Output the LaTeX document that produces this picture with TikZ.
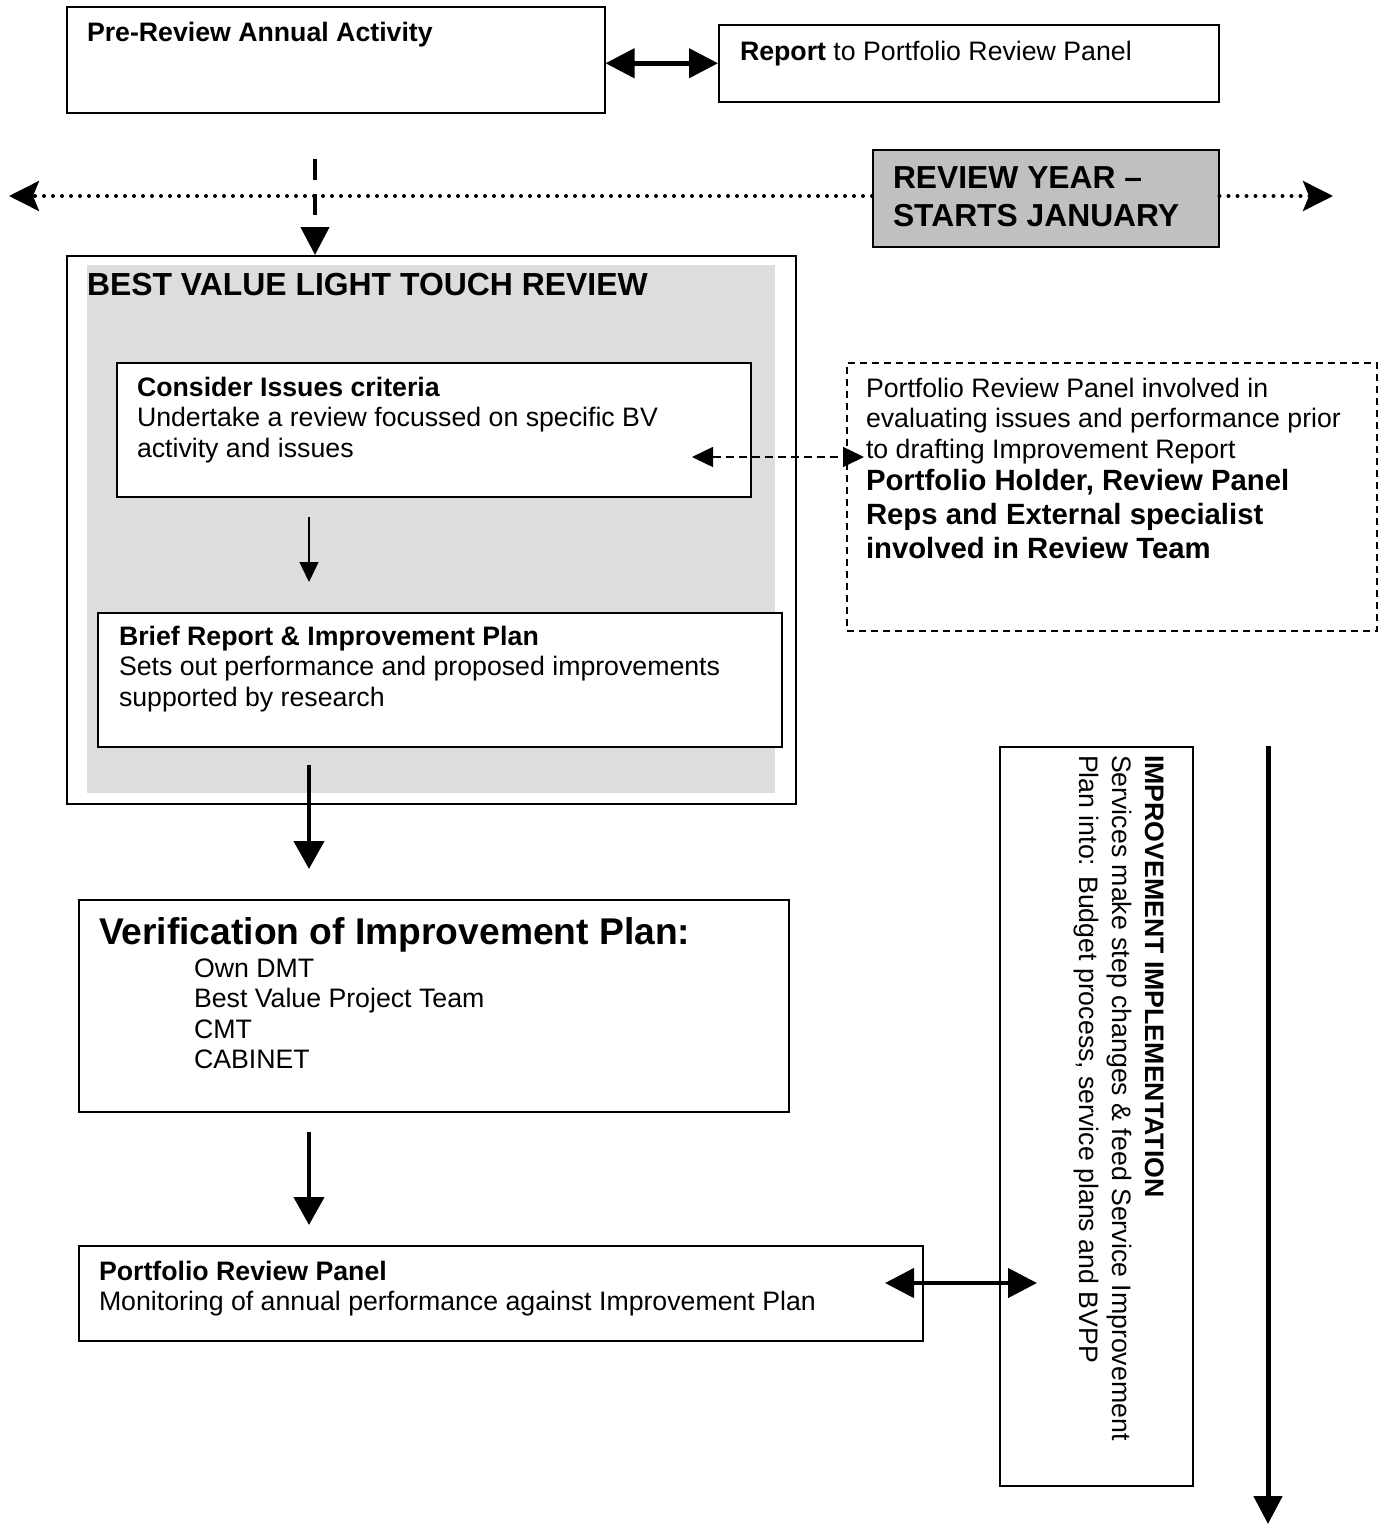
\documentclass[tikz,border=0pt]{standalone}
\usepackage{fontspec}
\setmainfont{Liberation Sans}
\usetikzlibrary{arrows.meta,calc}
\tikzset{
  box/.style={draw, line width=1.5pt, fill=white, inner sep=0pt, anchor=north west},
  txt/.style={anchor=base west, inner sep=0pt, outer sep=0pt},
  nfont/.style={font=\fontsize{26.7}{30.5}\selectfont},
  bigarrow/.style={line width=4.5pt, -{Triangle[length=28pt,width=30pt]}},
  dblarrow/.style={line width=4.5pt, {Triangle[length=29pt,width=29pt]}-{Triangle[length=29pt,width=29pt]}},
  thinarrow/.style={line width=1.3pt, -{Triangle[length=20pt,width=19pt]}},
  dasharrow/.style={line width=1.5pt, dash pattern=on 8pt off 5pt, {Triangle[length=21pt,width=20pt]}-{Triangle[length=21pt,width=20pt]}},
  dotarrow/.style={line width=4pt, line cap=round, dash pattern=on 0pt off 9pt, -{Stealth[length=30pt,width=30pt,inset=6pt]}},
}
\newcommand{\tbox}[2]{\parbox[t]{#1}{\raggedright #2}}
\begin{document}
\begin{tikzpicture}[x=1pt,y=-1pt]
\useasboundingbox[fill=white] (0,0) rectangle (1385,1524);

% boxes
\node[box, minimum width=538pt, minimum height=106pt] (pre) at (66,6) {};
\node[box, minimum width=500pt, minimum height=77pt] (rep) at (718,24) {};
\node[box, fill={rgb,255:red,192;green,192;blue,192}, minimum width=346pt, minimum height=97pt] (rev) at (872,149) {};
\node[box, minimum width=729pt, minimum height=548pt] (bvl) at (66,255) {};
\node[anchor=north west, inner sep=0pt, fill={rgb,255:red,221;green,221;blue,221}, minimum width=688pt, minimum height=528pt] (bvlbg) at (87,265) {};
\node[box, minimum width=634pt, minimum height=134pt] (cons) at (116,362) {};
\node[box, minimum width=684pt, minimum height=134pt] (brief) at (97,612) {};
\node[box, fill=white, dash pattern=on 7pt off 5pt, minimum width=530pt, minimum height=268pt] (dbox) at (846,362) {};
\node[box, minimum width=710pt, minimum height=212pt] (ver) at (78,899) {};
\node[box, minimum width=844pt, minimum height=95pt] (port) at (78,1245) {};
\node[box, minimum width=193pt, minimum height=739pt] (impr) at (999,746) {};

% texts
\node[txt, nfont] (pret) at (87,41) {\bfseries Pre-Review Annual Activity};
\node[txt, nfont] (rept) at (740,60) {\textbf{Report} to Portfolio Review Panel};
\node[txt, font=\fontsize{31.8}{38}\selectfont\bfseries] (revt) at (893,188) {\tbox{320pt}{REVIEW YEAR –\\STARTS JANUARY}};
\node[txt, font=\fontsize{31.9}{36}\selectfont\bfseries] (bvlt) at (87,295) {BEST VALUE LIGHT TOUCH REVIEW};
\node[txt, nfont] (const) at (137,396) {\tbox{600pt}{\textbf{Consider Issues criteria}\\Undertake a review focussed on specific BV\\activity and issues}};
\node[txt, nfont] (brieft) at (119,645) {\tbox{660pt}{\textbf{Brief Report \& Improvement Plan}\\Sets out performance and proposed improvements\\supported by research}};
\node[txt, nfont] (dboxt) at (866,397) {\tbox{510pt}{Portfolio Review Panel involved in\\evaluating issues and performance prior\\to drafting Improvement Report}};
\node[txt, font=\fontsize{29.3}{34}\selectfont\bfseries] (dboxb) at (866,490) {\tbox{510pt}{Portfolio Holder, Review Panel\\Reps and External specialist\\involved in Review Team}};
\node[txt, font=\fontsize{37.2}{42}\selectfont\bfseries] (vert) at (99,944) {Verification of Improvement Plan:};
\node[txt, nfont] (veri) at (194,977) {\tbox{500pt}{Own DMT\\Best Value Project Team\\CMT\\CABINET}};
\node[txt, nfont] (portt) at (99,1280) {\tbox{820pt}{\textbf{Portfolio Review Panel}\\Monitoring of annual performance against Improvement Plan}};
\node[txt, font=\fontsize{26.7}{33}\selectfont, rotate=-90] (imprt) at (1145,755) {\tbox{720pt}{\textbf{IMPROVEMENT IMPLEMENTATION}\\Services make step changes \& feed Service Improvement\\Plan into: Budget process, service plans and BVPP}};

% connectors
\draw[dblarrow] (pre.east |- rep.west) -- (rep.west);

\coordinate (dl) at (9,196);
\coordinate (dr) at (1333,196);
\draw[dotarrow] (dl -| rev.west) -- (dl);
\draw[dotarrow] (dr -| rev.east) -- (dr);

\coordinate (vt) at (315,159);
\draw[line width=4.5pt, dash pattern=on 21pt off 14pt, -{Triangle[length=28pt,width=28pt]}] (vt) -- (vt |- bvl.north);

\coordinate (ax) at (309,0);
\draw[thinarrow, shorten <=19pt, shorten >=30pt] (ax |- cons.south) -- (ax |- brief.north);

\coordinate (a1) at (309,765);
\draw[bigarrow, shorten >=30pt] (a1) -- (a1 |- ver.north);
\draw[bigarrow, shorten <=19pt, shorten >=20pt] (ax |- ver.south) -- (ax |- port.north);

\coordinate (dsl) at (692,457);
\coordinate (dsr) at (864,457);
\draw[dasharrow] (dsl) -- (dsr);

\coordinate (pl) at (885,1283);
\coordinate (pr) at (1037,1283);
\draw[dblarrow] (pl) -- (pr);

\coordinate (lt) at (1268,746);
\coordinate (lb) at (1268,1524);
\draw[line width=5pt, -{Triangle[length=28pt,width=28pt]}] (lt) -- (lb);
\end{tikzpicture}
\end{document}
